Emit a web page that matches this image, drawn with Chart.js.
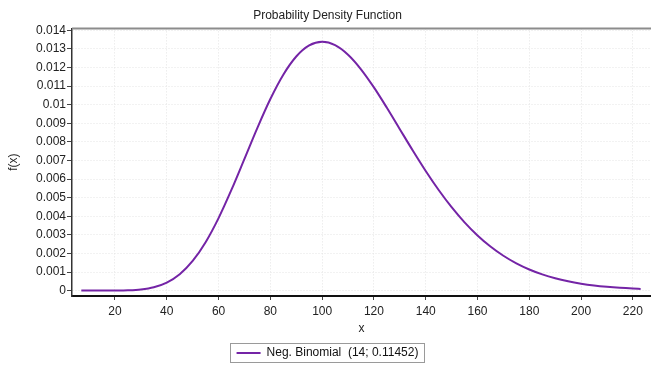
<!DOCTYPE html>
<html>
<head>
<meta charset="utf-8">
<title>Probability Density Function</title>
<script src="https://cdn.jsdelivr.net/npm/chart.js@4/dist/chart.umd.min.js"></script>
<style>
    html, body { margin: 0; padding: 0; background: #fff; }
    #wrap { width: 651px; height: 366px; position: relative; }
</style>
</head>
<body>
<div id="wrap"><canvas id="myChart"></canvas></div>
<script>
// values
const xValues = [7, 10, 15, 20, 25, 30, 35, 40, 45, 50, 55, 60, 65, 70, 75, 80, 85, 90, 95, 100,
    105, 110, 115, 120, 125, 130, 135, 140, 145, 150, 155, 160, 165, 170, 175, 180, 185, 190,
    195, 200, 205, 210, 215, 220, 223];
const fValues = [0, 0, 0.0000004, 0.0000034, 0.0000173, 0.0000635, 0.000182, 0.000433, 0.000884,
    0.001597, 0.002604, 0.003899, 0.005425, 0.007084, 0.008754, 0.010302, 0.01161, 0.012589,
    0.013185, 0.013381, 0.013199, 0.012684, 0.011903, 0.010928, 0.009832, 0.008681, 0.007534,
    0.006433, 0.005411, 0.004487, 0.003673, 0.002969, 0.002372, 0.001874, 0.001466, 0.001135,
    0.000871, 0.000662, 0.0005, 0.000374, 0.000277, 0.000205, 0.00015, 0.000109, 0.00009];
const xTicks = [20, 40, 60, 80, 100, 120, 140, 160, 180, 200, 220];
const yTicks = [0, 0.001, 0.002, 0.003, 0.004, 0.005, 0.006, 0.007, 0.008, 0.009, 0.01,
    0.011, 0.012, 0.013, 0.014];
const seriesName = "Neg. Binomial  (14; 0.11452)";

document.addEventListener("DOMContentLoaded", function () {
    Chart.defaults.font.family = '"Liberation Sans", Arial, sans-serif';
    Chart.defaults.font.size = 12;
    Chart.defaults.color = "#222";

    // top frame line + box round the legend
    const framePlugin = {
        id: "frame",
        afterUpdate(chart) {
            // push the legend a little lower, like the original
            const lg = chart.legend;
            lg.top += 3;
            lg.bottom += 3;
            lg.legendHitBoxes.forEach(h => { h.top += 3; });
        },
        afterDraw(chart) {
            const ctx = chart.ctx;
            const area = chart.chartArea;
            ctx.save();
            ctx.strokeStyle = "#8c8c8c";
            ctx.lineWidth = 2;
            ctx.beginPath();
            ctx.moveTo(area.left, area.top);
            ctx.lineTo(chart.width, area.top);
            ctx.stroke();

            const hb = chart.legend.legendHitBoxes[0];
            if (hb) {
                ctx.strokeStyle = "#9a9a9a";
                ctx.lineWidth = 1;
                ctx.strokeRect(Math.round(hb.left) - 6.5, Math.round(hb.top) - 3.5,
                    Math.round(hb.width) + 12, Math.round(hb.height) + 7);
            }
            ctx.restore();
        }
    };

    const ctx = document.getElementById("myChart");

    new Chart(ctx, {
        type: "line",
        data: {
            datasets: [{
                label: seriesName,
                data: xValues.map((x, i) => ({ x: x, y: fValues[i] })),
                borderColor: "#7424a6",
                backgroundColor: "#7424a6",
                borderWidth: 2,
                pointRadius: 0,
                cubicInterpolationMode: "monotone",
                fill: false
            }]
        },
        options: {
            responsive: true,
            maintainAspectRatio: false,
            animation: false,
            layout: { padding: { left: 4, right: 0, top: 0, bottom: 0 } },
            plugins: {
                title: {
                    display: true,
                    text: "Probability Density Function",
                    color: "#222",
                    font: { size: 12, weight: "normal" },
                    padding: { top: 8, bottom: 6 }
                },
                legend: {
                    position: "bottom",
                    labels: {
                        usePointStyle: true,
                        pointStyle: "line",
                        pointStyleWidth: 24,
                        color: "#111",
                        padding: 4,
                        font: { size: 12 }
                    }
                },
                tooltip: { enabled: false }
            },
            scales: {
                x: {
                    type: "linear",
                    min: 3.4,
                    max: 227,
                    afterBuildTicks: function (scale) {
                        scale.ticks = xTicks.map(v => ({ value: v }));
                    },
                    afterFit: function (scale) {
                        scale.height = 44;
                    },
                    ticks: { color: "#222", padding: 4, maxRotation: 0 },
                    grid: { color: "#e4e4e4", tickColor: "#444", tickLength: 4 },
                    border: { color: "#111", width: 2, dash: [1, 2] },
                    title: { display: true, text: "x", color: "#222", padding: { top: 2, bottom: 4 } }
                },
                y: {
                    min: -0.00029,
                    max: 0.0141,
                    afterBuildTicks: function (scale) {
                        scale.ticks = yTicks.map(v => ({ value: v }));
                    },
                    afterFit: function (scale) {
                        scale.width = 68;
                    },
                    ticks: {
                        color: "#222",
                        padding: 1,
                        callback: function (value) {
                            return String(+value.toFixed(3));
                        }
                    },
                    grid: { color: "#e4e4e4", tickColor: "#444", tickLength: 5 },
                    border: { color: "#333", width: 1.5, dash: [1, 2] },
                    title: { display: true, text: "f(x)", color: "#222", padding: { top: 2, bottom: 2 } }
                }
            }
        },
        plugins: [framePlugin]
    });
});
</script>
</body>
</html>
